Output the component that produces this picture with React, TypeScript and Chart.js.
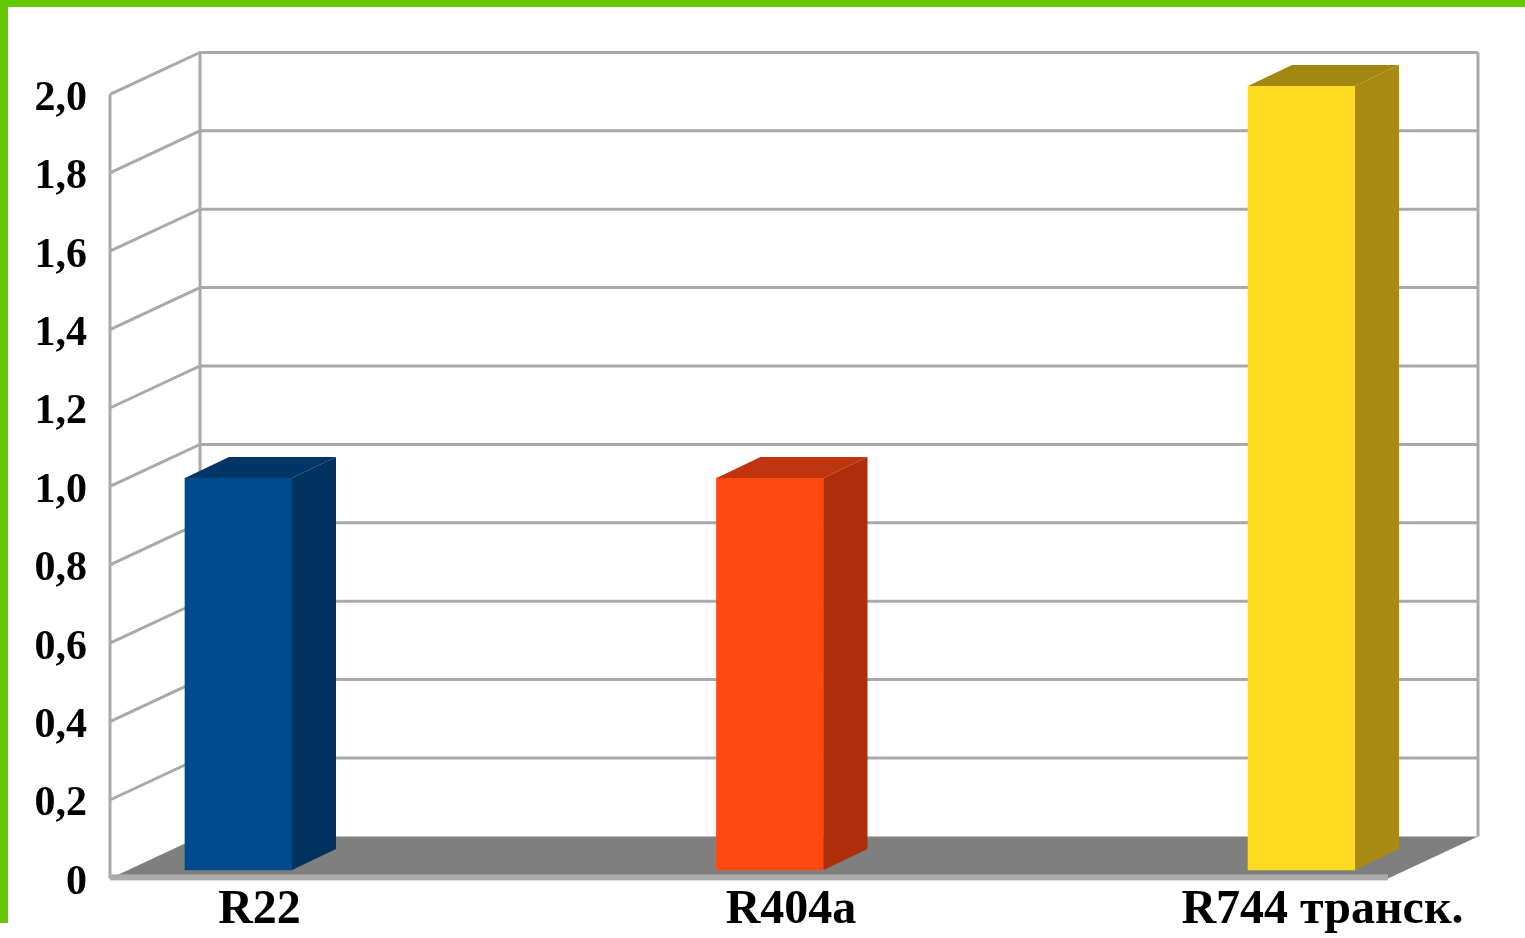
import React, { useEffect, useRef } from "react";
import { Chart, registerables } from "chart.js";

Chart.register(...registerables);

// ---- data ----
const categories = ["R22", "R404a", "R744 транск."];
const values = [1.0, 1.0, 2.0];
const frontColors = ["#004b8e", "#ff4812", "#fedb21"];
const sideColors = ["#00315f", "#ae2e0b", "#a88a15"];
const topColors = ["#003566", "#be340e", "#a28713"];
const yTickLabels = ["0", "0,2", "0,4", "0,6", "0,8", "1,0", "1,2", "1,4", "1,6", "1,8", "2,0"];
const yMin = 0;
const yMax = 2;
const yStep = 0.2;

const W = 1525;
const H = 938;
const FONT = "'Liberation Serif', 'Times New Roman', serif";

// 3D decoration plugin (walls, grid, floor, bar sides)
const threeD = {
  id: "threeD",
  beforeDatasetsDraw(chart: any) {
    const { ctx, chartArea } = chart;
    const ys = chart.scales.y;
    const { left, right } = chartArea;
    const FL = left - 128.5; // front-left wall edge
    const BL = left - 38.5; // back-left wall edge
    const BR = right + 176.5; // back-right wall edge
    const DX = 90;
    const fOff = 8.4; // front plane offset
    const bOff = -33.6; // back plane offset
    const yf = (v: number) => ys.getPixelForValue(v) + fOff;
    const yb = (v: number) => ys.getPixelForValue(v) + bOff;
    ctx.save();
    ctx.strokeStyle = "#a9a9a9";
    ctx.lineWidth = 3;
    ctx.beginPath();
    ys.ticks.forEach((t: any) => {
      const v = t.value;
      if (v <= yMin) return;
      ctx.moveTo(FL, yf(v));
      ctx.lineTo(BL, yb(v));
      ctx.lineTo(BR, yb(v));
    });
    ctx.moveTo(FL, yf(yMin));
    ctx.lineTo(FL, yf(yMax));
    ctx.moveTo(BL, yb(yMin));
    ctx.lineTo(BL, yb(yMax));
    ctx.moveTo(BR, yb(yMin));
    ctx.lineTo(BR, yb(yMax));
    ctx.stroke();
    // floor
    ctx.fillStyle = "#7f7f7f";
    ctx.beginPath();
    ctx.moveTo(FL, yf(yMin));
    ctx.lineTo(BL, yb(yMin));
    ctx.lineTo(BR, yb(yMin));
    ctx.lineTo(BR - DX, yf(yMin));
    ctx.closePath();
    ctx.fill();
    ctx.fillStyle = "#ababab";
    ctx.fillRect(FL, yf(yMin) - 4, BR - DX - FL, 6);
    ctx.restore();
  },
  afterDatasetsDraw(chart: any) {
    const { ctx } = chart;
    const meta = chart.getDatasetMeta(0);
    const bdx = 44;
    const bdy = -21;
    ctx.save();
    meta.data.forEach((bar: any, i: number) => {
      const { x, y, base, width } = bar.getProps(["x", "y", "base", "width"], true);
      const L = x - width / 2;
      const R = x + width / 2;
      // side
      ctx.fillStyle = sideColors[i];
      ctx.beginPath();
      ctx.moveTo(R, y);
      ctx.lineTo(R + bdx, y + bdy);
      ctx.lineTo(R + bdx, base + bdy);
      ctx.lineTo(R, base);
      ctx.closePath();
      ctx.fill();
      // top
      ctx.fillStyle = topColors[i];
      ctx.beginPath();
      ctx.moveTo(L, y);
      ctx.lineTo(L + bdx, y + bdy);
      ctx.lineTo(R + bdx, y + bdy);
      ctx.lineTo(R, y);
      ctx.closePath();
      ctx.fill();
    });
    ctx.restore();
  },
};

export default function App() {
  const ref = useRef<HTMLCanvasElement | null>(null);

  useEffect(() => {
    if (!ref.current) return;
    const chart = new Chart(ref.current, {
      type: "bar",
      data: {
        labels: categories,
        datasets: [
          {
            data: values,
            backgroundColor: frontColors,
            borderWidth: 0,
            barThickness: 107,
            clip: false,
          } as any,
        ],
      },
      options: {
        responsive: false,
        maintainAspectRatio: false,
        animation: false,
        devicePixelRatio: 1,
        layout: { padding: { top: 86, right: 223.5, left: 0, bottom: 0 } },
        plugins: {
          legend: { display: false },
          tooltip: { enabled: false },
        },
        scales: {
          x: {
            offset: false,
            grid: { display: false, drawTicks: false },
            border: { display: false },
            afterFit: (s: any) => {
              s.height = 68;
              s.paddingLeft = 0;
              s.paddingRight = 0;
            },
            ticks: {
              color: "#000000",
              padding: 12,
              labelOffset: 21,
              maxRotation: 0,
              autoSkip: false,
              font: { family: FONT, size: 48, weight: "bold" },
            },
          },
          y: {
            min: yMin,
            max: yMax,
            grid: { display: false, drawTicks: false },
            border: { display: false },
            afterFit: (s: any) => {
              s.width = 238.5;
              s.paddingTop = 0;
              s.paddingBottom = 0;
            },
            ticks: {
              stepSize: yStep,
              color: "#000000",
              padding: 151.5,
              labelOffset: 13,
              font: { family: FONT, size: 42, weight: "bold" },
              callback: (_v: any, i: number) => yTickLabels[i],
            },
          },
        },
      },
      plugins: [threeD],
    });
    return () => chart.destroy();
  }, []);

  return (
    <div style={{ position: "absolute", left: 0, top: 0, width: W, height: H, background: "#ffffff", overflow: "hidden" }}>
      <canvas ref={ref} width={W} height={H} style={{ position: "absolute", left: 0, top: 0, width: W, height: H }} />
      <div style={{ position: "absolute", left: 0, top: 0, width: W, height: 7, background: "#63c900" }} />
      <div style={{ position: "absolute", left: 0, top: 0, width: 8, height: 923, background: "#63c900" }} />
    </div>
  );
}
